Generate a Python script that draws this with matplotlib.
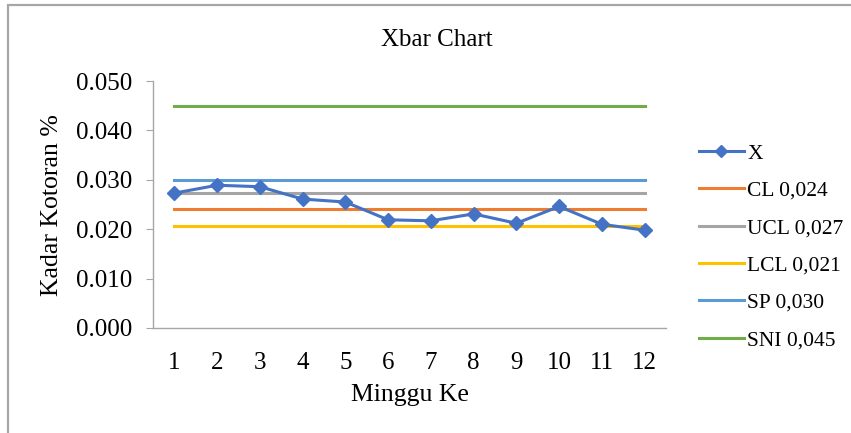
import matplotlib
matplotlib.use("Agg")
import matplotlib.pyplot as plt
from matplotlib.patches import Rectangle

plt.rcParams["font.family"] = ["Liberation Serif", "DejaVu Serif"]

minggu = list(range(1, 13))
x_bar = [0.0273, 0.0289, 0.0286, 0.0261, 0.0255, 0.0219,
         0.0217, 0.0231, 0.0212, 0.0246, 0.0210, 0.0198]

limit_names = ["CL", "UCL", "LCL", "SP", "SNI"]
limit_values = [0.0240, 0.0273, 0.0206, 0.030, 0.045]
limit_colors = ["#ED7D31", "#A5A5A5", "#FFC000", "#5B9BD5", "#70AD47"]

W, H = 851, 433
fig = plt.figure(figsize=(W / 100, H / 100), dpi=100)

# outer chart border (only top and left edges visible)
fig.patches.append(Rectangle((8 / W, -0.1), 1.1, 1 - 5 / H + 0.1,
                             transform=fig.transFigure, fill=False,
                             edgecolor="#A6A6A6", linewidth=1.6))

ax = fig.add_axes([153 / W, (H - 328) / H, (666 - 153) / W, (328 - 81) / H])

ax.plot(minggu, x_bar, color="#4472C4", linewidth=2.2, marker="D",
        markersize=7.5, label="X", zorder=5)
for name, val, col in zip(limit_names, limit_values, limit_colors):
    label = f"{name} {val:.3f}".replace(".", ",")
    ax.plot(minggu, [val] * len(minggu), color=col, linewidth=2.2, label=label)

ax.set_xlim(0.5, 12.5)
ax.set_ylim(0, 0.05)
ax.set_yticks([0, 0.01, 0.02, 0.03, 0.04, 0.05])
ax.set_yticklabels([f"{v:.3f}" for v in ax.get_yticks()])
ax.set_xticks(minggu)

for s in ["top", "right"]:
    ax.spines[s].set_visible(False)
for s in ["left", "bottom"]:
    ax.spines[s].set_color("#A6A6A6")
    ax.spines[s].set_linewidth(1.0)
ax.tick_params(axis="y", length=5, color="#A6A6A6", labelsize=18, pad=10)
ax.tick_params(axis="x", length=0, labelsize=18, pad=17)

fig.text(437 / W, 1 - 40 / H, "Xbar Chart", ha="center", va="center", fontsize=18)
fig.text(410 / W, 1 - 395 / H, "Minggu Ke", ha="center", va="center", fontsize=18.5)
fig.text(52 / W, 1 - 205 / H, "Kadar Kotoran %", ha="center", va="center",
         rotation=90, fontsize=18.5)

fig.legend(loc="upper left", bbox_to_anchor=(690 / W, 1 - 135 / H),
           frameon=False, fontsize=15.5, handlelength=2.1, handletextpad=0.15,
           labelspacing=0.8, markerscale=0.8, borderaxespad=0)

fig.savefig("out.png", dpi=100)
